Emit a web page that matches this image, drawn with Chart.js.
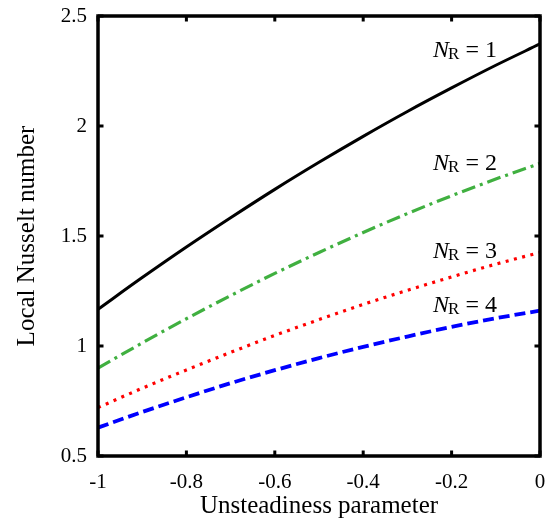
<!DOCTYPE html>
<html>
<head>
<meta charset="utf-8">
<script src="https://cdn.jsdelivr.net/npm/chart.js@4.4.1/dist/chart.umd.min.js"></script>
<style>
 html,body{margin:0;padding:0;background:#fff;}
 #wrap{width:550px;height:523px;position:relative;}
</style>
</head>
<body>
<div id="wrap"><canvas id="nuCanvas"></canvas></div>
<script>
/* ----- DATA ----- */
const unsteadiness=[-1,-0.9,-0.8,-0.7,-0.6,-0.5,-0.4,-0.3,-0.2,-0.1,0];

const nuR1=[1.167,1.311,1.450,1.583,1.712,1.835,1.953,2.066,2.173,2.276,2.373];
const nuR2=[0.899,1.014,1.124,1.229,1.330,1.425,1.516,1.602,1.683,1.759,1.830];
const nuR3=[0.720,0.808,0.891,0.971,1.048,1.120,1.189,1.253,1.314,1.372,1.425];
const nuR4=[0.629,0.700,0.767,0.831,0.890,0.945,0.996,1.043,1.087,1.126,1.161];

const radiationValues=['1','2','3','4'];

const xTicks=[-1,-0.8,-0.6,-0.4,-0.2,0];
const yTicks=[0.5,1,1.5,2,2.5];

/* ----- UTIL ----- */
const SERIF='"Liberation Serif","Times New Roman",serif';

function pts(ys){
 return unsteadiness.map((x,i)=>({x:x,y:ys[i]}));
}

function fmt(v){
 return String(+Number(v).toFixed(1));
}

// where each N_R tag sits, in data units
const tagAt=[
 {x:-0.242,y:2.314},
 {x:-0.242,y:1.800},
 {x:-0.242,y:1.401},
 {x:-0.242,y:1.156}
];

/* ----- FRAME + TAGS ----- */
const framePlugin={
 id:'frame',
 afterDraw(chart){
  const {ctx,chartArea:a,scales:{x,y}}=chart;
  ctx.save();

  // closed box round the plot
  ctx.strokeStyle='#000';
  ctx.lineWidth=3.5;
  ctx.strokeRect(a.left,a.top,a.right-a.left,a.bottom-a.top);

  // inward ticks on all four sides
  ctx.lineWidth=3;
  ctx.beginPath();
  xTicks.forEach(v=>{
   const px=x.getPixelForValue(v);
   ctx.moveTo(px,a.bottom);ctx.lineTo(px,a.bottom-5.5);
   ctx.moveTo(px,a.top);ctx.lineTo(px,a.top+5.5);
  });
  yTicks.forEach(v=>{
   const py=y.getPixelForValue(v);
   ctx.moveTo(a.left,py);ctx.lineTo(a.left+5.5,py);
   ctx.moveTo(a.right,py);ctx.lineTo(a.right-5.5,py);
  });
  ctx.stroke();

  // N_R = k tags
  ctx.fillStyle='#000';
  ctx.textBaseline='alphabetic';
  ctx.textAlign='left';
  radiationValues.forEach((k,i)=>{
   let px=x.getPixelForValue(tagAt[i].x);
   const py=y.getPixelForValue(tagAt[i].y);
   ctx.font='italic 24px '+SERIF;
   ctx.fillText('N',px,py);
   px+=ctx.measureText('N').width-1;
   ctx.font='17px '+SERIF;
   ctx.fillText('R',px,py+2);
   px+=ctx.measureText('R').width;
   ctx.font='24px '+SERIF;
   ctx.fillText(' = '+k,px,py);
  });

  ctx.restore();
 }
};

/* ----- CHART ----- */
const lineBase={
 pointRadius:0,
 pointHoverRadius:0,
 fill:false,
 cubicInterpolationMode:'monotone',
 borderCapStyle:'butt'
};

new Chart(nuCanvas,{
 type:'line',
 data:{
  datasets:[
   {...lineBase,label:'N_R = 1',data:pts(nuR1),borderColor:'#000000',borderWidth:3},
   {...lineBase,label:'N_R = 2',data:pts(nuR2),borderColor:'#40b040',borderWidth:3.2,borderDash:[14,5,3,5]},
   {...lineBase,label:'N_R = 3',data:pts(nuR3),borderColor:'#ff0000',borderWidth:3.2,borderDash:[3,5.5]},
   {...lineBase,label:'N_R = 4',data:pts(nuR4),borderColor:'#0000ff',borderWidth:3.8,borderDash:[11,5]}
  ]
 },
 options:{
  responsive:true,
  maintainAspectRatio:false,
  animation:false,
  devicePixelRatio:1,
  layout:{padding:0},
  plugins:{legend:{display:false},tooltip:{enabled:false}},
  events:[],
  scales:{
   x:{
    type:'linear',
    min:-1,max:0,
    afterFit(s){s.height=67;s.paddingLeft=0;s.paddingRight=10;},
    afterBuildTicks(s){s.ticks=xTicks.map(v=>({value:v}));},
    grid:{display:false},
    border:{display:false},
    ticks:{
     color:'#000',
     padding:5.5,
     maxRotation:0,
     autoSkip:false,
     font:{family:SERIF,size:21},
     callback:fmt
    },
    title:{
     display:true,
     text:'Unsteadiness parameter',
     color:'#000',
     font:{family:SERIF,size:25},
     padding:{top:0,bottom:1.6}
    }
   },
   y:{
    type:'linear',
    min:0.5,max:2.5,
    afterFit(s){s.width=98;s.paddingTop=16;s.paddingBottom=0;},
    afterBuildTicks(s){s.ticks=yTicks.map(v=>({value:v}));},
    grid:{display:false},
    border:{display:false},
    ticks:{
     color:'#000',
     padding:3,
     autoSkip:false,
     font:{family:SERIF,size:21},
     callback:fmt
    },
    title:{
     display:true,
     text:'Local Nusselt number',
     color:'#000',
     font:{family:SERIF,size:25},
     padding:{top:12.1,bottom:0}
    }
   }
  }
 },
 plugins:[framePlugin]
});
</script>
</body>
</html>
